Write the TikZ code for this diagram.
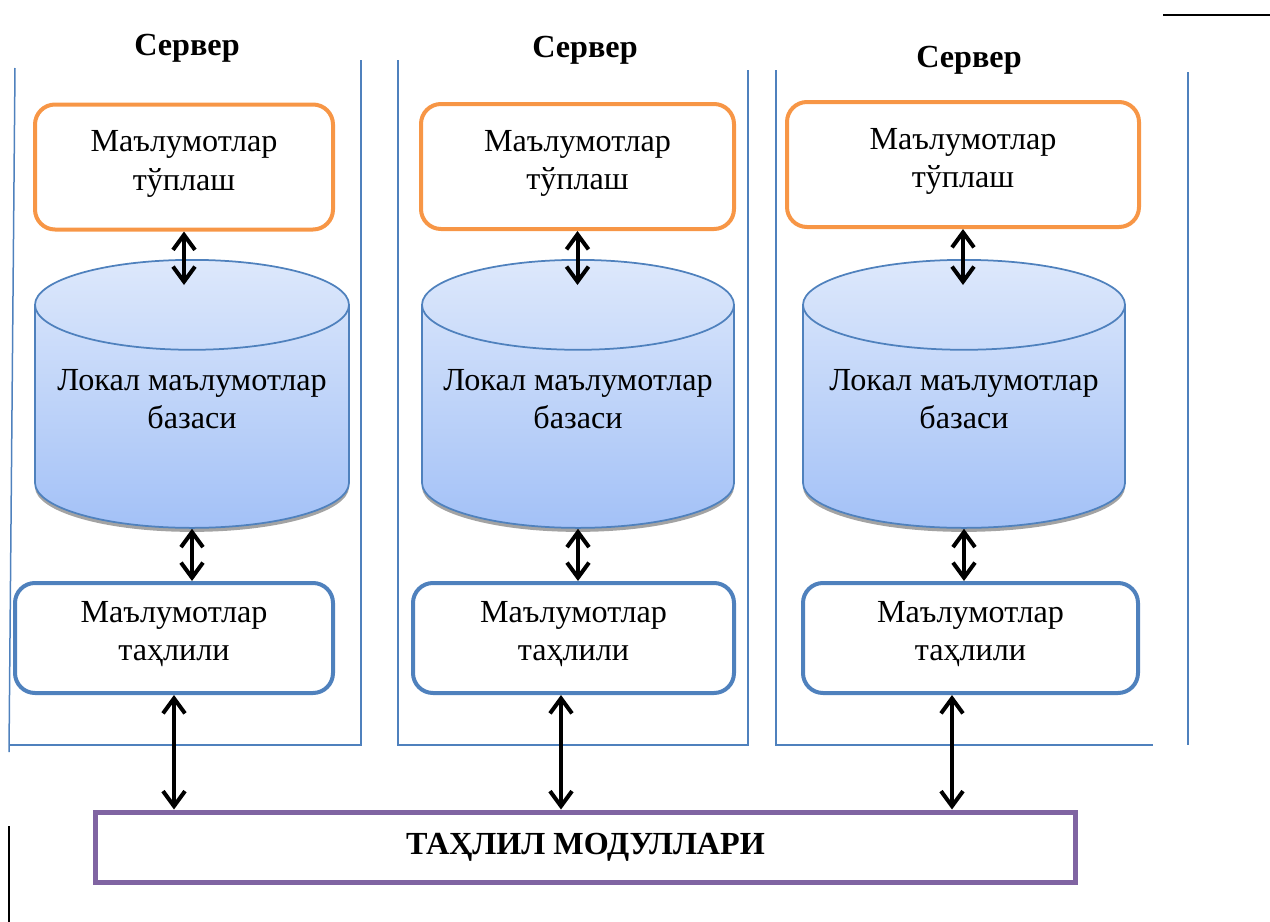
\documentclass[tikz,border=0pt]{standalone}
\usepackage{fontspec}
\setmainfont{Liberation Serif}
\usetikzlibrary{shapes.geometric,arrows.meta,shadows}
\definecolor{boxorange}{HTML}{F79646}
\definecolor{boxblue}{HTML}{4F81BD}
\definecolor{modpurple}{HTML}{8064A2}
\definecolor{dbtop}{HTML}{DDE8FB}
\definecolor{dbbottom}{HTML}{A3C1F7}
\begin{document}
\begin{tikzpicture}[x=0.2mm, y=-0.2mm,
		every node/.style={font=\fontsize{18.3}{21.8}\selectfont, align=center},
		collectbox/.style={draw=boxorange, line width=0.8mm, rounded corners=4mm, minimum height=25mm, text depth=2.6mm},
		analysisbox/.style={draw=boxblue, line width=0.8mm, rounded corners=4mm, minimum height=22mm, text depth=2.8mm},
		dbcyl/.style={cylinder, shape border rotate=90, aspect=0.32, draw=boxblue, line width=0.35mm,
			top color=dbtop, bottom color=dbbottom, minimum height=53.6mm, text depth=9.6mm, anchor=north,
			drop shadow={shadow xshift=0mm, shadow yshift=-0.8mm, fill=black!45, opacity=0.8}},
		panel/.style={draw=boxblue, line width=0.3mm},
		link/.style={line width=0.8mm, {Straight Barb[length=3mm,width=4.4mm]}-{Straight Barb[length=3mm,width=4.4mm]}}]
		\useasboundingbox (0,0) rectangle (1270,922);
		
		% server panels
		\draw[panel] (15,68) -- (9,752);
		\draw[panel] (361,60) -- (361,745) -- (10,745);
		\draw[panel] (398,60) -- (398,745) -- (748,745) -- (748,70);
		\draw[panel] (776,70) -- (776,745) -- (1153,745);
		\draw[panel] (1188,72) -- (1188,745);
		\draw[line width=0.5mm] (1163,15) -- (1270,15);
		\draw[line width=0.4mm] (9,826) -- (9,922);
		
		\foreach \i/\x/\y in {1/187/48, 2/585/50, 3/969/60}
			\node[font=\fontsize{18.3}{21.8}\selectfont\bfseries] (srv\i) at (\x,\y) {Сервер};
		
		\foreach \i/\x/\y/\w in {1/184/167/298, 2/577.5/166.5/313, 3/963/164.5/352}
			\node[collectbox, minimum width=\w*0.2mm] (collect\i) at (\x,\y) {Маълумотлар\\тўплаш};
		
		\foreach \i/\x/\w in {1/192/314, 2/578/312, 3/964/322}
			\node[dbcyl, minimum width=\w*0.2mm] (db\i) at (\x,259) {Локал маълумотлар\\базаси};
		
		\foreach \i/\x/\w in {1/174/318, 2/573.5/321, 3/970.5/335}
			\node[analysisbox, minimum width=\w*0.2mm] (analysis\i) at (\x,638) {Маълумотлар\\таҳлили};
		
		\node[draw=modpurple, line width=1mm, minimum width=195.8mm, minimum height=14mm,
			font=\fontsize{18.3}{21.8}\selectfont\bfseries] (modules) at (585.5,847) {ТАҲЛИЛ МОДУЛЛАРИ};
		
		\foreach \i/\dx in {1/0mm, 2/-2.5mm, 3/-3.7mm}
		{
			\draw[link, shorten >=-5.2mm] (collect\i.south) -- (collect\i.south |- db\i.north);
			\draw[link] (db\i.south) -- (db\i.south |- analysis\i.north);
			\draw[link] ([xshift=\dx]analysis\i.south) -- ([xshift=\dx]analysis\i.south |- modules.north);
		}
	\end{tikzpicture}
\end{document}
